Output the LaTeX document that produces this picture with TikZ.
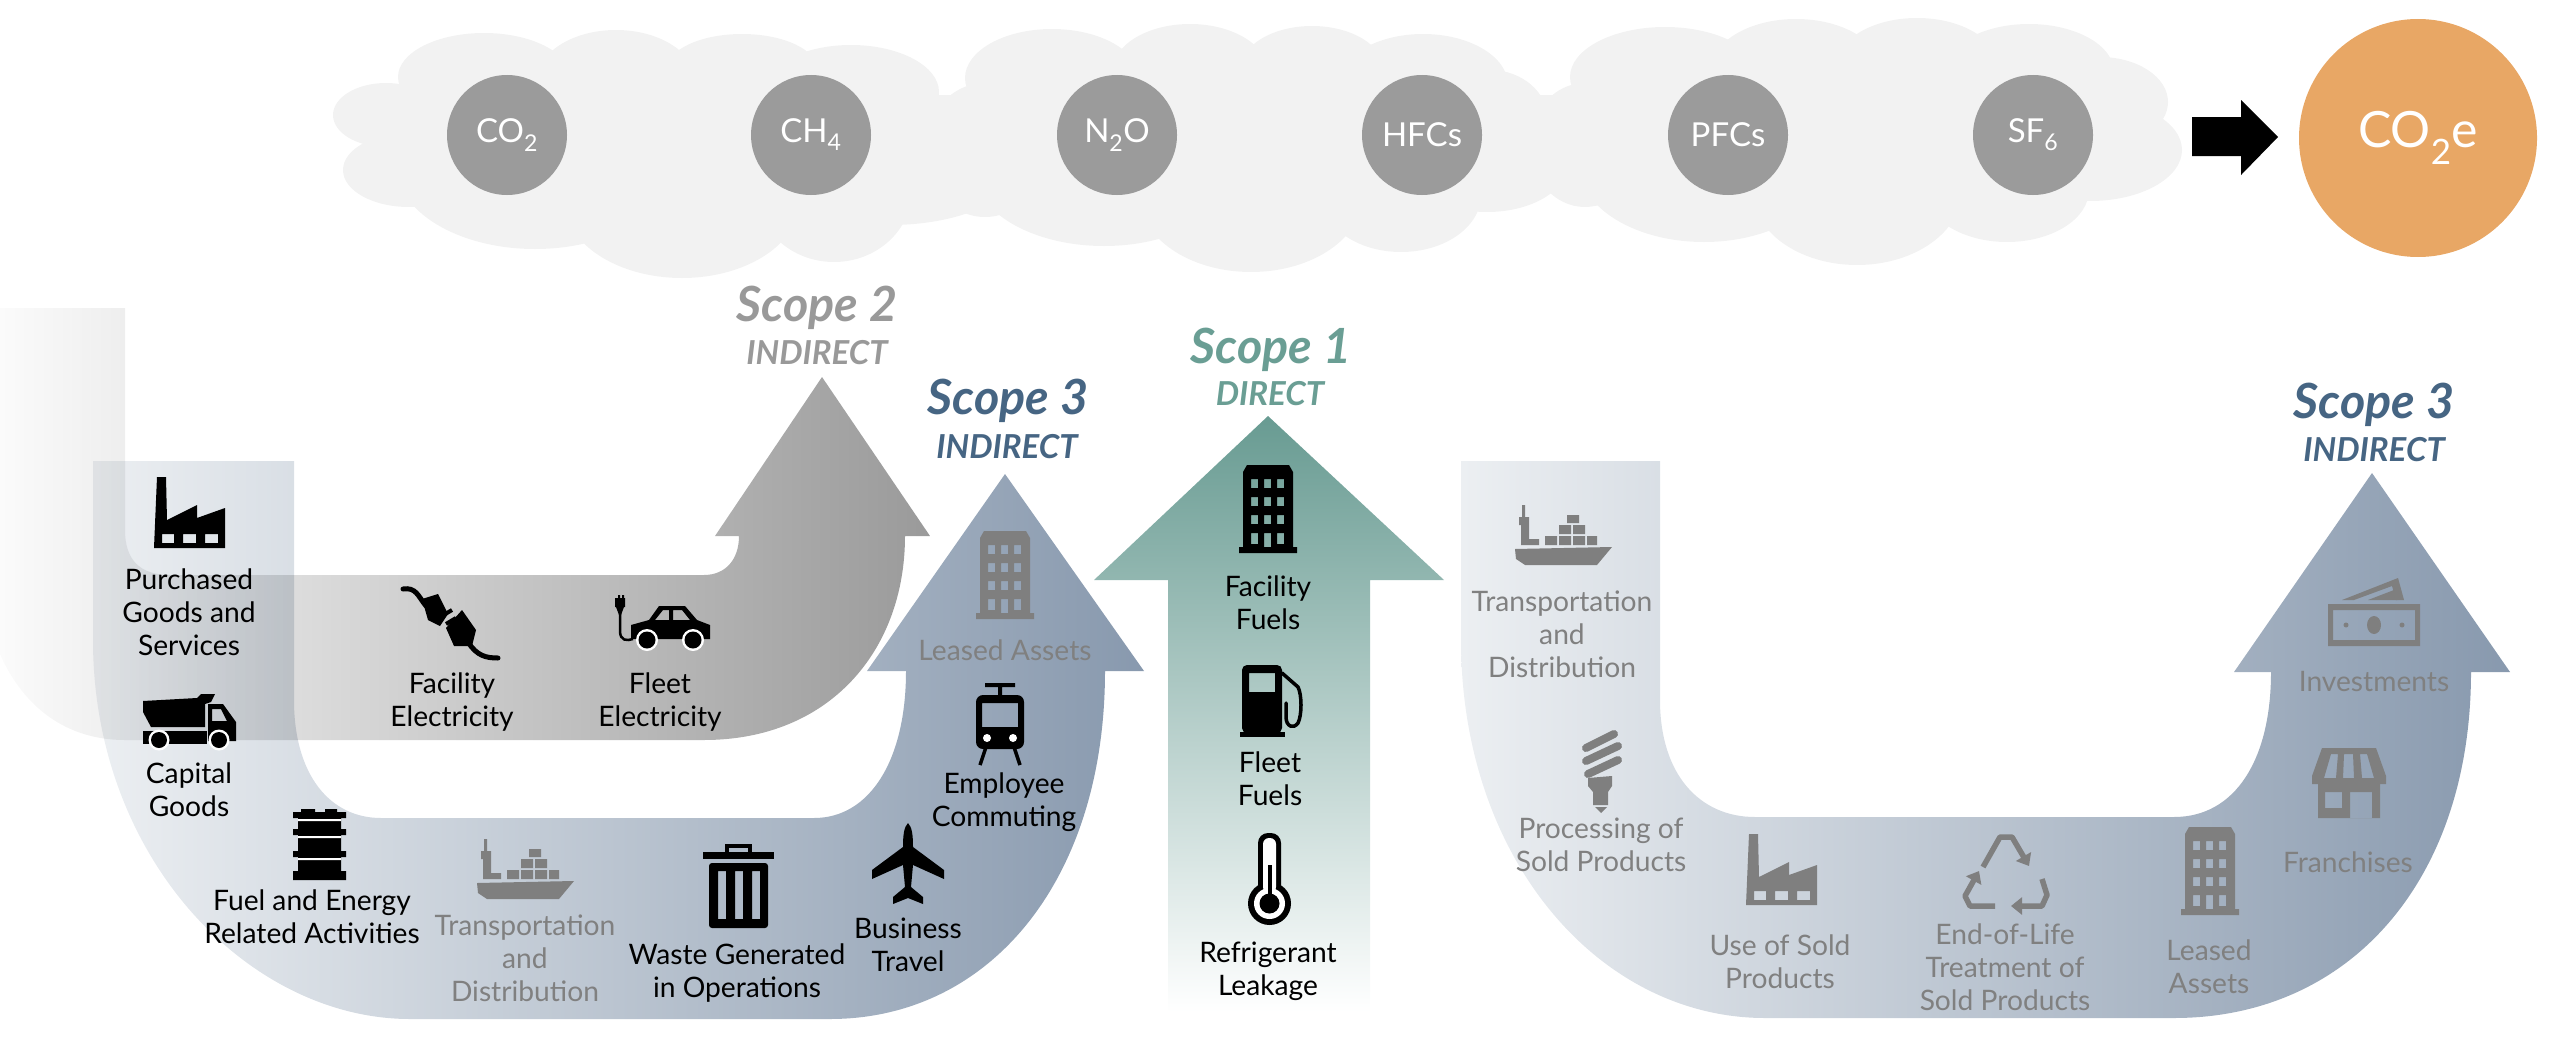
\documentclass[tikz,border=0pt]{standalone}
\usepackage{fontspec}
\setmainfont{Lato}
\usetikzlibrary{arrows.meta}
\definecolor{cloudc}{HTML}{F2F2F2}
\definecolor{gasc}{HTML}{9B9B9B}
\definecolor{eqc}{HTML}{E8A765}
\definecolor{sthree}{HTML}{466583}
\definecolor{stwo}{HTML}{999999}
\definecolor{sone}{HTML}{6A9E94}
\definecolor{grayic}{HTML}{7F7F7F}
\definecolor{graytx}{HTML}{808080}
\definecolor{bandL}{HTML}{ECEFF2}
\definecolor{bandM}{HTML}{C6D0DB}
\definecolor{bandR}{HTML}{8899AE}
\definecolor{twoL}{HTML}{FBFBFB}
\definecolor{twoM}{HTML}{CFCFCF}
\definecolor{twoR}{HTML}{9A9A9A}
\definecolor{oneT}{HTML}{689B92}
\definecolor{oneM}{HTML}{A5C4BE}
\tikzset{
  x=1pt,y=-1pt,
  gas/.style={circle,fill=gasc,minimum size=120pt,inner sep=0pt,text=white,font=\fontsize{33}{36}\selectfont},
  lobe/.style={fill=cloudc,draw=none},
  lab/.style={align=center,inner sep=0pt,font=\fontsize{28.2}{33}\selectfont},
  glab/.style={lab,text=graytx},
  shead/.style={inner sep=0pt,font=\fontsize{48.5}{50}\selectfont\bfseries\itshape},
  ssub/.style={inner sep=0pt,font=\fontsize{33}{36}\selectfont\itshape\bfseries},
  band3/.style={left color=bandL,middle color=bandM,right color=bandR,blend mode=multiply},
}
% --- icons, native px units, colour "ic"
\newcommand\icfactory{\fill[ic,even odd rule] (0,71)--(3,0)--(12,0)--(13,43)--(43,28)--(43,41)--(71,31)--(71,71)--cycle
 (8,57) rectangle (20,66) (29,57) rectangle (42,66) (51,57) rectangle (64,66);}
\newcommand\icbuilding{\fill[ic,even odd rule] (8,0)--(50,0)--(54,7)--(54,82)--(58,82)--(58,88)--(0,88)--(0,82)--(4,82)--(4,7)--cycle
 (12,14) rectangle (19,23) (25,14) rectangle (32,23) (38,14) rectangle (45,23)
 (12,32) rectangle (19,41) (25,32) rectangle (32,41) (38,32) rectangle (45,41)
 (12,50) rectangle (19,59) (25,50) rectangle (32,59) (38,50) rectangle (45,59)
 (12,68) rectangle (19,79) (25,68) rectangle (32,82) (38,68) rectangle (45,79);}
\newcommand\ictruck{\fill[ic] (0,7)--(54,4)--(58,0)--(72,0)--(68,8)--(62,10)--(62,33)--(8,33)--(0,18)--cycle;
 \fill[ic] (0,37) rectangle (64,50);
 \fill[ic,even odd rule] (65,10)--(80,10)--(93,28)--(93,47)--(65,47)--cycle (69,15)--(78,15)--(84,27)--(69,27)--cycle;
 \fill[white] (16,46) circle (10.5) (76,46) circle (10.5);
 \fill[ic] (16,46) circle (8) (76,46) circle (8);}
\newcommand\icplug{\draw[ic,line width=5pt,line cap=round] (1,3) .. controls (14,1) and (16,10) .. (24,20);
 \fill[ic] (20,13)--(36,8)--(46,28)--(38,40)--(26,34)--cycle;
 \draw[ic,line width=4pt] (40,30)--(50,24) (44,38)--(54,32);
 \fill[ic] (60,24)--(74,44)--(70,60)--(52,60)--(44,42)--cycle;
 \draw[ic,line width=5pt,line cap=round] (66,56) .. controls (75,70) and (84,72) .. (96,72);}
\newcommand\iccar{\fill[ic] (2,3) rectangle (12,12) (5,0) rectangle (7,3) (9,0) rectangle (11,3) (3,12)--(11,12)--(8,20)--(6,20)--cycle;
 \draw[ic,line width=2.5pt] (7,18)--(7,36) .. controls (7,46) and (14,46) .. (20,44);
 \fill[ic,even odd rule] (18,44)--(18,30)--(36,25)--(46,11)--(72,11)--(84,25)--(97,30)--(97,44)--cycle
 (42,25)--(50,15)--(56,15)--(56,25)--cycle (60,15)--(69,15)--(77,25)--(60,25)--cycle;
 \fill[white] (34,45) circle (11) (80,45) circle (11);
 \fill[ic] (34,45) circle (8.5) (80,45) circle (8.5);}
\newcommand\ictram{\fill[ic] (11,0) rectangle (41,4) (24,4) rectangle (28,12);
 \fill[ic,even odd rule,rounded corners=7pt] (2,12) rectangle (50,66)
 [sharp corners] (8,20) rectangle (44,44);
 \fill[white] (13,55) circle (4) (39,55) circle (4);
 \draw[ic,line width=3.5pt] (12,64)--(6,82) (40,64)--(46,82);}
\newcommand\icbarrel{\fill[ic] (8,0) rectangle (22,3) (32,0) rectangle (44,3);
 \fill[ic] (0,3) rectangle (53,9) (5,9) rectangle (48,20) (0,20) rectangle (53,26) (5,26) rectangle (48,42)
 (0,42) rectangle (53,48) (5,48) rectangle (48,62) (0,62) rectangle (53,71);
 \fill[white] (5,10) rectangle (48,12) (5,27) rectangle (48,29) (5,49) rectangle (48,51);}
\newcommand\icship{\fill[ic] (7,0) rectangle (10,12) (4,12) rectangle (14,20) (6,20) rectangle (14,40) (14,34) rectangle (24,40);
 \fill[ic] (30,31) rectangle (42,40) (44,31) rectangle (56,40) (58,31) rectangle (70,40)
 (44,20) rectangle (56,29) (58,20) rectangle (70,29) (52,10) rectangle (64,18) (72,31) rectangle (82,40);
 \fill[ic] (0,44)--(97,42)--(82,60)--(10,60)--(1,54)--cycle;}
\newcommand\ictrash{\draw[ic,line width=4pt] (24,9)--(24,3)--(47,3)--(47,9);
 \fill[ic] (0,9) rectangle (71,16);
 \fill[ic,even odd rule,rounded corners=3pt] (6,20) rectangle (65,85)
 [sharp corners] (15,28) rectangle (23,76) (32,28) rectangle (40,76) (49,28) rectangle (57,76);}
\newcommand\icplane{\fill[ic] (36,0) .. controls (32,4) and (31,12) .. (31,24)--(0,47)--(0,56)--(31,42)--(33,64)--(21,74)--(21,81)--(36,75)--(51,81)--(51,74)--(39,64)--(41,42)--(72,56)--(72,47)--(41,24) .. controls (41,12) and (40,4) .. (36,0)--cycle;}
\newcommand\icpump{\fill[ic,even odd rule,rounded corners=5pt] (2,0) rectangle (42,68)
 [sharp corners] (9,8) rectangle (35,27);
 \fill[ic] (0,67) rectangle (45,72);
 \draw[ic,line width=3.5pt,line cap=round] (42,8) -- (58,22) .. controls (62,30) and (62,50) .. (58,58) .. controls (54,64) and (46,62) .. (46,52)--(46,38);}
\newcommand\icthermo{\fill[ic] (21.5,70.5) circle (21.5);
 \fill[ic,rounded corners=10pt] (10,0) rectangle (33,62);
 \fill[white,rounded corners=6pt] (15,5) rectangle (28,60);
 \fill[white] (21.5,70.5) circle (15.5);
 \fill[ic] (21.5,70.5) circle (10);
 \fill[ic] (19.5,32) rectangle (23.5,68);}
\newcommand\iccfl{\draw[ic,line width=8pt,line cap=round] (6,18)--(34,4) (6,31)--(38,16) (8,44)--(38,30);
 \fill[ic] (8,48)--(32,46)--(32,56)--(28,62)--(28,75)--(13,75)--(13,62)--(8,56)--cycle;
 \fill[ic] (15,77)--(27,77)--(21,83)--cycle;}
\newcommand\icrecycle{\begin{scope}[ic,line width=5.5pt,line join=round]
 \draw[-{Triangle[length=11pt,width=17pt]}] (20,34)--(37,4)--(49,4)--(66,33);
 \draw[-{Triangle[length=11pt,width=17pt]}] (79,46)--(84,62)--(79,73)--(48,73);
 \draw[-{Triangle[length=11pt,width=17pt]}] (32,73)--(7,73)--(2,63)--(16,38);
 \end{scope}}
\newcommand\icstore{\fill[ic,even odd rule] (10,0)--(64,0)--(74,28)--(74,36)--(0,36)--(0,28)--cycle
 (19,6)--(26,6)--(24,30)--(12,30)--cycle (32,6)--(41,6)--(42,30)--(31,30)--cycle (48,6)--(55,6)--(62,30)--(50,30)--cycle;
 \fill[ic,even odd rule] (6,36) rectangle (68,70) (13,44) rectangle (30,60) (38,44) rectangle (60,70);}
\newcommand\icmoney{\fill[ic,even odd rule] (0,26) rectangle (92,68) (5,32) rectangle (87,62);
 \fill[ic] (46,47) ellipse (7 and 9) (18,47) circle (2.5) (74,47) circle (2.5);
 \fill[ic] (14,22)--(70,0)--(76,22)--(68,22)--(64,8)--(26,22)--cycle;
 \fill[ic] (40,22)--(66,12)--(69,22)--cycle;}
\newcommand\iconat[5]{\begin{scope}[shift={(#1,#2)},scale=#3]\colorlet{ic}{#4}#5\end{scope}}
\begin{document}
\begin{tikzpicture}
\useasboundingbox (0,0) rectangle (2572,1041);
% clouds
\foreach \a/\b/\c/\d in {386/115/53/32,409/170/66/37,484/77/86/44,616/82/80/52,742/69/75/35,851/92/88/47,535/165/139/84,682/200/118/78,834/190/78/72,890/165/130/60,985/150/60/67,
 1052/78/87/49,1190/72/78/48,1312/70/72/44,1423/85/85/51,1490/120/58/50,1487/165/80/47,1401/195/80/57,1251/195/112/77,1104/170/130/76,
 1665/77/95/50,1796/70/85/51,1917/65/80/47,2029/72/85/48,2100/102/68/45,2090/150/92/51,2007/190/82/52,1857/190/105/75,1704/165/125/77,1585/145/55/62}
  {\fill[lobe] (\a,\b) ellipse [x radius=\c,y radius=\d];}
\fill[lobe] (430,95) rectangle (2100,190);
% gases
\node[gas] (co2) at (507,135) {CO\textsubscript{2}};
\node[gas] (ch4) at (811,135) {CH\textsubscript{4}};
\node[gas] (n2o) at (1117,135) {N\textsubscript{2}O};
\node[gas] (hfc) at (1422,135) {HFCs};
\node[gas] (pfc) at (1728,135) {PFCs};
\node[gas] (sf6) at (2033,135) {SF\textsubscript{6}};
\fill[black] (2192,117)--(2241,117)--(2241,100)--(2278,137)--(2241,175)--(2241,156)--(2192,156)--cycle;
\node[circle,fill=eqc,minimum size=238pt,inner sep=0pt,text=white,font=\fontsize{50}{58}\selectfont] (eq) at (2418,138) {CO\textsubscript{2}e};
% scope 2 band
\shade[left color=twoL,middle color=twoM,right color=twoR] (0,308)--(125,308)--(125,530) .. controls (125,560) and (140,575) .. (170,575)--(704,575) .. controls (725,575) and (739,560) .. (739,536)--(715,536)--(822,377)--(930,536)--(905,536) .. controls (905,650) and (830,740) .. (704,740)--(125,740) .. controls (60,740) and (20,700) .. (0,654)--cycle;
% scope 3 left
\shade[band3] (93,461)--(294,461)--(294,700) .. controls (294,775) and (330,818) .. (381,818)--(814,818) .. controls (870,818) and (906,760) .. (906,671)--(867,671)--(1005,474)--(1144,671)--(1105,671) .. controls (1105,880) and (990,1019) .. (830,1019)--(410,1019) .. controls (250,1019) and (93,860) .. (93,640)--cycle;
% scope 1
\shade[top color=oneT,middle color=oneM,bottom color=white] (1268,416)--(1444,580)--(1370,580)--(1370,1012)--(1168,1012)--(1168,580)--(1094,580)--cycle;
% scope 3 right
\shade[band3] (1461,461)--(1660,461)--(1660,700) .. controls (1660,775) and (1700,817) .. (1755,817)--(2174,817) .. controls (2235,817) and (2271,760) .. (2271,672)--(2234,672)--(2372,473)--(2510,672)--(2471,672) .. controls (2471,880) and (2350,1018) .. (2174,1018)--(1765,1018) .. controls (1600,1018) and (1461,860) .. (1461,640)--cycle;
% icons
\iconat{154}{477}{1}{black}{\icfactory}
\iconat{143}{694}{1}{black}{\ictruck}
\iconat{402}{586}{1}{black}{\icplug}
\iconat{613}{595}{1}{black}{\iccar}
\iconat{976}{531}{1}{grayic}{\icbuilding}
\iconat{974}{683}{1}{black}{\ictram}
\iconat{293}{809}{1}{black}{\icbarrel}
\iconat{477}{839}{1}{grayic}{\icship}
\iconat{703}{843}{1}{black}{\ictrash}
\iconat{872}{823}{1}{black}{\icplane}
\iconat{1239}{465}{1}{black}{\icbuilding}
\iconat{1240}{665}{1}{black}{\icpump}
\iconat{1248}{833}{1}{black}{\icthermo}
\iconat{1515}{505}{1}{grayic}{\icship}
\iconat{1580}{730}{1}{grayic}{\iccfl}
\iconat{1746}{834}{1}{grayic}{\icfactory}
\iconat{1963}{833}{1}{grayic}{\icrecycle}
\iconat{2181}{827}{1}{grayic}{\icbuilding}
\iconat{2312}{748}{1}{grayic}{\icstore}
\iconat{2328}{578}{1}{grayic}{\icmoney}
% headings
\node[shead,text=stwo] (s2) at (817,308) {Scope 2};
\node[ssub,text=stwo] (s2i) at (817,353) {INDIRECT};
\node[shead,text=sthree] (s3a) at (1008,401) {Scope 3};
\node[ssub,text=sthree] (s3ai) at (1007,447) {INDIRECT};
\node[shead,text=sone] (s1) at (1271,350) {Scope 1};
\node[ssub,text=sone] (s1i) at (1270,394) {DIRECT};
\node[shead,text=sthree] (s3b) at (2374,405) {Scope 3};
\node[ssub,text=sthree] (s3bi) at (2374,450) {INDIRECT};
% labels
\node[lab] (l1) at (189,612) {Purchased\\Goods and\\Services};
\node[lab] (l2) at (189,790) {Capital\\Goods};
\node[lab] (l3) at (452,702) {Facility\\Electricity};
\node[lab] (l4) at (660,702) {Fleet\\Electricity};
\node[glab] (l5) at (1005,650) {Leased Assets};
\node[lab] (l6) at (1004,802) {Employee\\Commuting};
\node[lab] (l7) at (312,917) {Fuel and Energy\\Related Activities};
\node[glab] (l8) at (525,958) {Transportation\\and\\Distribution};
\node[lab] (l9) at (737,973) {Waste Generated\\in Operations};
\node[lab] (l10) at (908,945) {Business\\Travel};
\node[lab] (l11) at (1268,603) {Facility\\Fuels};
\node[lab] (l12) at (1270,779) {Fleet\\Fuels};
\node[lab] (l13) at (1268,971) {Refrigerant\\Leakage};
\node[glab] (r1) at (1562,634) {Transportation\\and\\Distribution};
\node[glab] (r2) at (1601,845) {Processing of\\Sold Products};
\node[glab] (r3) at (1780,962) {Use of Sold\\Products};
\node[glab] (r4) at (2005,967) {End-of-Life\\Treatment of\\Sold Products};
\node[glab] (r5) at (2209,967) {Leased\\Assets};
\node[glab] (r6) at (2348,862) {Franchises};
\node[glab] (r7) at (2374,682) {Investments};
\end{tikzpicture}
\end{document}
